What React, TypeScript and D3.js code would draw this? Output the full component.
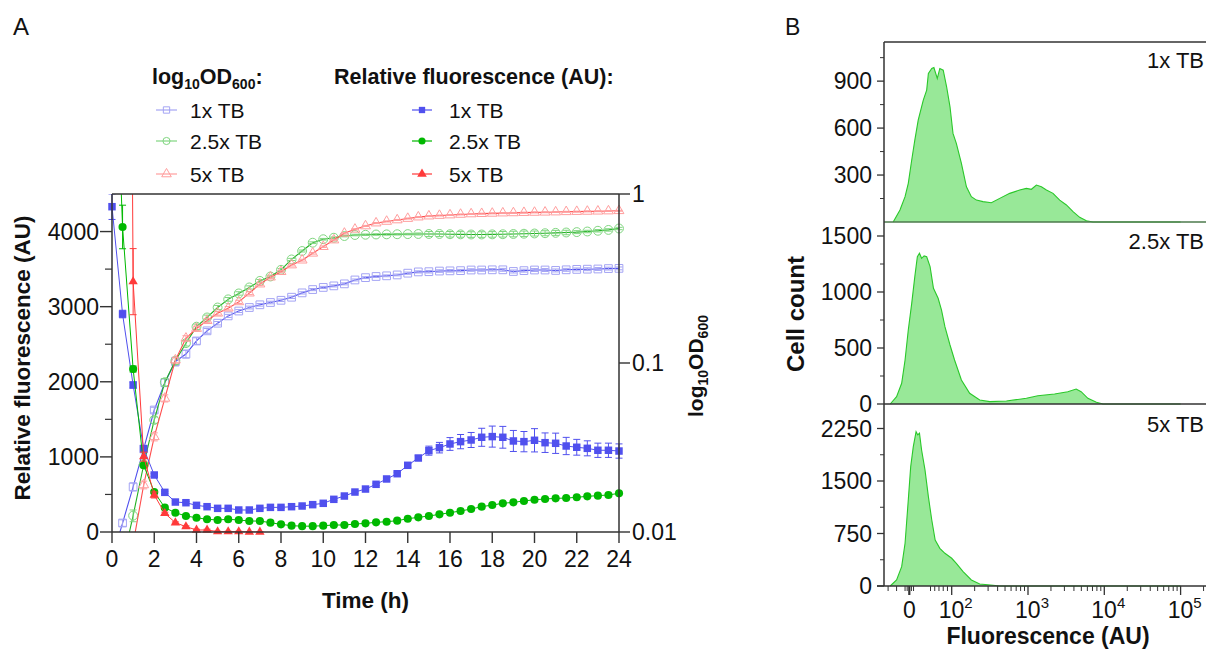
import React from 'react';
import * as d3 from 'd3';

// ---------------- DATA ----------------
const hours = [0, 0.5, 1, 1.5, 2, 2.5, 3, 3.5, 4, 4.5, 5, 5.5, 6, 6.5, 7, 7.5, 8, 8.5, 9, 9.5, 10, 10.5, 11, 11.5, 12, 12.5, 13, 13.5, 14, 14.5, 15, 15.5, 16, 16.5, 17, 17.5, 18, 18.5, 19, 19.5, 20, 20.5, 21, 21.5, 22, 22.5, 23, 23.5, 24];

// Relative fluorescence (AU)
const fluor1x = [4331, 2902, 1957, 1109, 759, 528, 399, 390, 355, 337, 315, 315, 293, 293, 315, 328, 328, 337, 346, 364, 382, 435, 479, 532, 572, 635, 706, 776, 888, 985, 1083, 1123, 1172, 1203, 1225, 1261, 1270, 1261, 1212, 1203, 1221, 1189, 1181, 1145, 1128, 1114, 1088, 1088, 1078];
const fluor1xSd = [170, 50, 40, 30, 20, 15, 15, 15, 15, 15, 15, 15, 15, 15, 15, 15, 15, 15, 15, 15, 15, 15, 15, 15, 15, 15, 15, 20, 25, 30, 60, 70, 85, 95, 100, 120, 140, 145, 140, 135, 155, 130, 135, 115, 105, 100, 95, 95, 95];
const fluor25x = [7800, 4061, 2170, 888, 533, 324, 257, 213, 190, 169, 160, 169, 160, 146, 146, 124, 102, 84, 78, 78, 84, 93, 93, 106, 115, 129, 137, 151, 177, 195, 213, 235, 257, 280, 306, 337, 359, 382, 395, 413, 430, 439, 448, 452, 462, 475, 484, 493, 515];
const fluor25xSd = [300, 290, 40, 20, 15, 10, 10, 10, 10, 10, 10, 10, 10, 10, 10, 10, 10, 10, 10, 10, 10, 10, 10, 10, 10, 10, 10, 10, 10, 10, 10, 10, 10, 10, 10, 10, 10, 10, 10, 10, 10, 10, 10, 10, 10, 10, 10, 10, 10];
const fluor5x: (number | null)[] = [null, 25000, 3333, 1003, 493, 249, 124, 71, 27, 27, 5, 5, 5, 0, 0, null, null, null, null, null, null, null, null, null, null, null, null, null, null, null, null, null, null, null, null, null, null, null, null, null, null, null, null, null, null, null, null, null, null];
const fluor5xSd = [0, 0, 440, 60, 40, 15, 10, 10, 10, 10, 5, 5, 5, 5, 5, 0, 0, 0, 0, 0, 0, 0, 0, 0, 0, 0, 0, 0, 0, 0, 0, 0, 0, 0, 0, 0, 0, 0, 0, 0, 0, 0, 0, 0, 0, 0, 0, 0, 0];

// OD600
const od1x = [0.0069, 0.0113, 0.0185, 0.031, 0.0527, 0.0765, 0.102, 0.113, 0.135, 0.155, 0.172, 0.19, 0.203, 0.213, 0.221, 0.228, 0.235, 0.245, 0.26, 0.272, 0.28, 0.286, 0.294, 0.31, 0.32, 0.325, 0.328, 0.332, 0.34, 0.346, 0.347, 0.35, 0.351, 0.352, 0.355, 0.355, 0.356, 0.356, 0.348, 0.352, 0.355, 0.355, 0.353, 0.356, 0.358, 0.359, 0.36, 0.362, 0.363];
const od1xSd = [0.0005, 0.0005, 0.001, 0.001, 0.002, 0.004, 0.006, 0.006, 0.006, 0.005, 0.004, 0.004, 0.004, 0.004, 0.004, 0.004, 0.004, 0.004, 0.004, 0.004, 0.004, 0.004, 0.004, 0.004, 0.004, 0.004, 0.004, 0.004, 0.005, 0.005, 0.006, 0.006, 0.006, 0.006, 0.006, 0.006, 0.006, 0.007, 0.007, 0.007, 0.007, 0.007, 0.007, 0.007, 0.007, 0.007, 0.007, 0.007, 0.007];
const od25x = [0.004, 0.0066, 0.0125, 0.025, 0.046, 0.077, 0.103, 0.131, 0.164, 0.186, 0.213, 0.238, 0.258, 0.28, 0.306, 0.325, 0.356, 0.41, 0.46, 0.515, 0.54, 0.551, 0.564, 0.572, 0.574, 0.576, 0.577, 0.578, 0.579, 0.58, 0.58, 0.58, 0.578, 0.577, 0.576, 0.576, 0.577, 0.578, 0.58, 0.582, 0.584, 0.586, 0.589, 0.592, 0.595, 0.6, 0.606, 0.613, 0.625];
const od25xSd = [0.0005, 0.0005, 0.001, 0.001, 0.002, 0.004, 0.005, 0.005, 0.006, 0.006, 0.006, 0.006, 0.006, 0.006, 0.006, 0.006, 0.006, 0.006, 0.006, 0.006, 0.006, 0.006, 0.006, 0.006, 0.006, 0.006, 0.006, 0.006, 0.006, 0.008, 0.02, 0.02, 0.022, 0.022, 0.022, 0.022, 0.022, 0.022, 0.022, 0.022, 0.02, 0.02, 0.02, 0.018, 0.012, 0.01, 0.01, 0.01, 0.01];
const od5x: (number | null)[] = [null, 0.003, 0.0085, 0.019, 0.0366, 0.0618, 0.104, 0.14, 0.16, 0.178, 0.197, 0.211, 0.23, 0.259, 0.293, 0.322, 0.347, 0.38, 0.406, 0.446, 0.488, 0.534, 0.585, 0.618, 0.647, 0.673, 0.688, 0.702, 0.716, 0.73, 0.74, 0.746, 0.751, 0.757, 0.762, 0.765, 0.768, 0.771, 0.773, 0.776, 0.778, 0.78, 0.782, 0.785, 0.787, 0.789, 0.791, 0.793, 0.796];
const od5xSd = [0, 0, 0.0005, 0.001, 0.002, 0.003, 0.004, 0.005, 0.005, 0.005, 0.005, 0.005, 0.005, 0.005, 0.005, 0.005, 0.005, 0.005, 0.005, 0.005, 0.005, 0.005, 0.005, 0.005, 0.005, 0.005, 0.005, 0.005, 0.005, 0.005, 0.005, 0.005, 0.005, 0.005, 0.005, 0.005, 0.005, 0.005, 0.005, 0.005, 0.005, 0.005, 0.005, 0.005, 0.005, 0.005, 0.005, 0.005, 0.005];

const leftTicks = [0, 1000, 2000, 3000, 4000];
const leftMinorTicks = [500, 1500, 2500, 3500];
const timeTicks = [0, 2, 4, 6, 8, 10, 12, 14, 16, 18, 20, 22, 24];
const odTicks = [0.01, 0.1, 1];
const odTickLabels = ['0.01', '0.1', '1'];
const mediaLabels = ['1x TB', '2.5x TB', '5x TB'];

// Flow cytometry histograms (fluorescence AU, cell count)
const hist1xFl = [-38, -22, -10, -2.4, 5.7, 13, 21, 33, 41, 45, 53, 58, 66, 72, 80, 88, 96, 104, 115, 134, 156, 181, 211, 257, 331, 426, 576, 778, 952, 1108, 1288, 1498, 1743, 2128, 2603, 3186, 3893, 4760, 5822, 7115, 100000];
const hist1xCount = [0, 77, 162, 247, 396, 523, 651, 779, 843, 949, 981, 987, 917, 981, 970, 864, 736, 566, 502, 375, 225, 162, 140, 130, 123, 151, 183, 204, 215, 209, 236, 225, 204, 183, 140, 109, 66, 30, 8, 0, 0];
const hist25xFl = [-45, -30, -18, -10, -2.4, 5.7, 13, 19, 24, 29, 35, 41, 49, 57, 68, 76, 84, 96, 109, 134, 172, 233, 315, 521, 952, 1346, 2229, 3326, 4276, 4970, 6093, 7880, 9616, 100000];
const hist25xCount = [0, 65, 185, 393, 661, 899, 1137, 1315, 1346, 1301, 1322, 1315, 1226, 1033, 944, 839, 690, 527, 393, 214, 96, 36, 21, 27, 51, 74, 89, 110, 134, 110, 51, 15, 0, 0];
const hist5xFl = [-45, -30, -18, -10, -2.4, 3.3, 9.4, 16, 20, 24, 29, 37, 45, 53, 61, 72, 84, 100, 115, 141, 181, 233, 348, 426, 100000];
const hist5xCount = [0, 86, 276, 610, 1229, 1705, 1991, 2205, 2158, 2182, 1943, 1658, 1276, 943, 657, 538, 467, 396, 324, 205, 86, 29, 10, 0, 0];

const p1Ticks = [300, 600, 900];
const p1Minor = [150, 450, 750, 1050];
const p2Ticks = [0, 500, 1000, 1500];
const p2Minor = [250, 750, 1250];
const p3Ticks = [0, 750, 1500, 2250];
const p3Minor = [375, 1125, 1875];
const flMajorTicks = [100, 1000, 10000, 100000];
const flMajorExp = ['2', '3', '4', '5'];
const flMinorTicks = [-50, -30, -10, -5, 5, 10, 50, 60, 70, 80, 90, 200, 300, 400, 500, 600, 700, 800, 900, 2000, 3000, 4000, 5000, 6000, 7000, 8000, 9000, 20000, 30000, 40000, 50000, 60000, 70000, 80000, 90000, 200000];

// ---------------- STYLE ----------------
const FONT = "Arial, 'Liberation Sans', Helvetica, sans-serif";
const AXIS = '#333';
const BLUE = '#5050ee';
const BLUE_L = '#a4a4f4';
const GREEN = '#00b800';
const GREEN_L = '#80d680';
const RED = '#ff3a3a';
const RED_L = '#ff9e9e';

// Panel A geometry
const AX0 = 112, AX1 = 619, AYB = 532, AYT = 194;
const xA = d3.scaleLinear().domain([0, 24]).range([AX0, AX1]);
const yF = d3.scaleLinear().domain([0, 4500]).range([AYB, AYT]);
const yOD = d3.scaleLog().domain([0.01, 1]).range([AYB, AYT]);

// Panel B geometry
const BX0 = 884, BX1 = 1206;
const bxLin = d3.scaleLinear().domain([0, 100]).range([909.3, 951.7]);
const bxLog = d3.scaleLog().domain([100, 100000]).range([951.7, 1180.6]);
const bx = (v: number) => (v >= 100 ? bxLog(v) : bxLin(v));
const yP1 = d3.scaleLinear().domain([0, 1150]).range([222, 42]);
const yP2 = d3.scaleLinear().domain([0, 1625]).range([404, 222]);
const yP3 = d3.scaleLinear().domain([0, 2600]).range([586, 404]);

type Shape = 'square' | 'circle' | 'triangle';
const symType = { square: d3.symbolSquare, circle: d3.symbolCircle, triangle: d3.symbolTriangle };

function Marker({ shape, x, y, size, fill, stroke, sw }: { shape: Shape; x: number; y: number; size: number; fill: string; stroke: string; sw: number }) {
  const d = d3.symbol().type(symType[shape]).size(size)() as string;
  return <path d={d} transform={`translate(${x},${y})`} fill={fill} stroke={stroke} strokeWidth={sw} />;
}

interface Series {
  vals: (number | null)[];
  sd: number[];
  y: (v: number) => number;
  inDomain: (v: number) => boolean;
  lineColor: string;
  markColor: string;
  shape: Shape;
  size: number;
  open: boolean;
  lw: number;
}

const fIn = (v: number) => v >= 0 && v <= 4500;
const oIn = (v: number) => v >= 0.01 && v <= 1.0001;

const odSeries: Series[] = [
  { vals: od1x, sd: od1xSd, y: yOD, inDomain: oIn, lineColor: BLUE, markColor: BLUE_L, shape: 'square', size: 60, open: true, lw: 1.1 },
  { vals: od25x, sd: od25xSd, y: yOD, inDomain: oIn, lineColor: '#20b020', markColor: GREEN_L, shape: 'circle', size: 62, open: true, lw: 1.1 },
  { vals: od5x, sd: od5xSd, y: yOD, inDomain: oIn, lineColor: '#ff4c4c', markColor: RED_L, shape: 'triangle', size: 42, open: true, lw: 1.1 },
];
const flSeries: Series[] = [
  { vals: fluor1x, sd: fluor1xSd, y: yF, inDomain: fIn, lineColor: BLUE, markColor: BLUE, shape: 'square', size: 56, open: false, lw: 1 },
  { vals: fluor25x, sd: fluor25xSd, y: yF, inDomain: fIn, lineColor: GREEN, markColor: GREEN, shape: 'circle', size: 52, open: false, lw: 1 },
  { vals: fluor5x, sd: fluor5xSd, y: yF, inDomain: fIn, lineColor: RED, markColor: RED, shape: 'triangle', size: 38, open: false, lw: 1 },
];

function SeriesView({ s, id }: { s: Series; id: string }) {
  const pts = hours.map((t, i) => ({ t, v: s.vals[i], e: s.sd[i] }));
  const line = d3
    .line<{ t: number; v: number | null }>()
    .defined((d) => d.v != null)
    .x((d) => xA(d.t))
    .y((d) => s.y(d.v as number));
  return (
    <g key={id}>
      <path d={line(pts) || ''} fill="none" stroke={s.lineColor} strokeWidth={s.lw} clipPath="url(#clipA)" />
      <g clipPath="url(#clipA)">
        {pts.map((p, i) => {
          if (p.v == null || !s.inDomain(p.v) || !p.e) return null;
          const x = xA(p.t);
          const lo = Math.max(p.v - p.e, s === odSeries[0] || s === odSeries[1] || s === odSeries[2] ? 0.001 : -100);
          const y1 = s.y(p.v + p.e);
          const y2 = s.y(lo);
          const c = s.open ? s.markColor : s.lineColor;
          return (
            <g key={i} stroke={c} strokeWidth={1}>
              <line x1={x} x2={x} y1={y1} y2={y2} />
              <line x1={x - 3.5} x2={x + 3.5} y1={y1} y2={y1} />
              <line x1={x - 3.5} x2={x + 3.5} y1={y2} y2={y2} />
            </g>
          );
        })}
      </g>
      {pts.map((p, i) => {
        if (p.v == null || !s.inDomain(p.v)) return null;
        return (
          <Marker
            key={i}
            shape={s.shape}
            x={xA(p.t)}
            y={s.y(p.v)}
            size={s.size}
            fill={s.open ? 'none' : s.markColor}
            stroke={s.markColor}
            sw={s.open ? 1 : 0}
          />
        );
      })}
    </g>
  );
}

function Hist({ fl, counts, y, base }: { fl: number[]; counts: number[]; y: (v: number) => number; base: number }) {
  const pts = fl.map((f, i) => [f, counts[i]] as [number, number]);
  const area = d3
    .area<[number, number]>()
    .x((d) => bx(d[0]))
    .y0(base)
    .y1((d) => y(d[1]));
  const line = d3
    .line<[number, number]>()
    .x((d) => bx(d[0]))
    .y((d) => y(d[1]));
  return (
    <g clipPath="url(#clipB)">
      <path d={area(pts) || ''} fill="#98e898" stroke="none" />
      <path d={line(pts) || ''} fill="none" stroke="#2ac82a" strokeWidth={1.1} />
    </g>
  );
}

function YAxisB({ y, ticks, minor }: { y: (v: number) => number; ticks: number[]; minor: number[] }) {
  return (
    <g>
      {ticks.map((t) => (
        <g key={t}>
          <line x1={BX0 - 7} x2={BX0} y1={y(t)} y2={y(t)} stroke={AXIS} strokeWidth={1.3} />
          <text x={872} y={y(t) + 8} textAnchor="end" fontSize={23} fill="#111">
            {t}
          </text>
        </g>
      ))}
      {minor.map((t) => (
        <line key={'m' + t} x1={BX0 - 4} x2={BX0} y1={y(t)} y2={y(t)} stroke={AXIS} strokeWidth={1} />
      ))}
    </g>
  );
}

export default function App() {
  const legendOD = [
    { shape: 'square' as Shape, color: BLUE_L, line: BLUE_L },
    { shape: 'circle' as Shape, color: GREEN_L, line: GREEN_L },
    { shape: 'triangle' as Shape, color: RED_L, line: RED_L },
  ];
  const legendFl = [
    { shape: 'square' as Shape, color: BLUE },
    { shape: 'circle' as Shape, color: GREEN },
    { shape: 'triangle' as Shape, color: RED },
  ];
  const rowY = [110, 141, 174];

  return (
    <svg
      width={1206}
      height={650}
      style={{ position: 'absolute', left: 0, top: 0, background: '#fff' }}
      fontFamily={FONT}
    >
      <defs>
        <clipPath id="clipA">
          <rect x={AX0 - 10} y={AYT} width={AX1 - AX0 + 20} height={AYB - AYT} />
        </clipPath>
        <clipPath id="clipB">
          <rect x={BX0 + 1} y={40} width={BX1 - BX0} height={550} />
        </clipPath>
      </defs>

      {/* Panel labels */}
      <text x={13} y={35} fontSize={24} fill="#111">A</text>
      <text x={785} y={35} fontSize={23} fill="#111">B</text>

      {/* ---------- Panel A ---------- */}
      {/* legend */}
      <text x={152} y={84} fontSize={21.5} fontWeight="bold" fill="#111">
        log<tspan dy={5} fontSize={14}>10</tspan>
        <tspan dy={-5}>OD</tspan>
        <tspan dy={5} fontSize={14}>600</tspan>
        <tspan dy={-5}>:</tspan>
      </text>
      <text x={334} y={84} fontSize={21.5} fontWeight="bold" fill="#111">
        Relative fluorescence (AU):
      </text>
      {legendOD.map((l, i) => (
        <g key={'lo' + i}>
          <line x1={156} x2={177} y1={rowY[i]} y2={rowY[i]} stroke={l.line} strokeWidth={1.2} />
          <Marker shape={l.shape} x={166.5} y={rowY[i]} size={40} fill="none" stroke={l.color} sw={1} />
          <text x={190} y={rowY[i] + 7.5} fontSize={21} fill="#111">
            {mediaLabels[i]}
          </text>
        </g>
      ))}
      {legendFl.map((l, i) => (
        <g key={'lf' + i}>
          <line x1={412} x2={432} y1={rowY[i]} y2={rowY[i]} stroke={l.color} strokeWidth={1.2} />
          <Marker shape={l.shape} x={422} y={rowY[i]} size={40} fill={l.color} stroke="none" sw={0} />
          <text x={449} y={rowY[i] + 7.5} fontSize={21} fill="#111">
            {mediaLabels[i]}
          </text>
        </g>
      ))}

      {/* series */}
      {odSeries.map((s, i) => (
        <SeriesView key={'od' + i} s={s} id={'od' + i} />
      ))}
      {flSeries.map((s, i) => (
        <SeriesView key={'fl' + i} s={s} id={'fl' + i} />
      ))}

      {/* axes */}
      <line x1={AX0} x2={AX1} y1={AYT} y2={AYT} stroke={AXIS} strokeWidth={1.3} />
      <line x1={AX0} x2={AX0} y1={AYT} y2={AYB} stroke={AXIS} strokeWidth={1.5} />
      <line x1={AX1} x2={AX1} y1={AYT} y2={AYB} stroke={AXIS} strokeWidth={1.5} />
      <line x1={AX0} x2={AX1} y1={AYB} y2={AYB} stroke={AXIS} strokeWidth={1.5} />
      {leftTicks.map((t) => (
        <g key={'lt' + t}>
          <line x1={AX0 - 12} x2={AX0} y1={yF(t)} y2={yF(t)} stroke={AXIS} strokeWidth={1.4} />
          <text x={99} y={yF(t) + 8} textAnchor="end" fontSize={23} fill="#111">
            {t}
          </text>
        </g>
      ))}
      {leftMinorTicks.map((t) => (
        <line key={'lm' + t} x1={AX0 - 7} x2={AX0} y1={yF(t)} y2={yF(t)} stroke={AXIS} strokeWidth={1.2} />
      ))}
      {timeTicks.map((t) => (
        <g key={'xt' + t}>
          <line x1={xA(t)} x2={xA(t)} y1={AYB} y2={AYB + 11} stroke={AXIS} strokeWidth={1.4} />
          <text x={xA(t)} y={566.5} textAnchor="middle" fontSize={23} fill="#111">
            {t}
          </text>
        </g>
      ))}
      {odTicks.map((t, i) => (
        <g key={'rt' + t}>
          <line x1={AX1} x2={AX1 + 11} y1={yOD(t)} y2={yOD(t)} stroke={AXIS} strokeWidth={1.4} />
          <text x={632} y={yOD(t) + 8} textAnchor="start" fontSize={23} fill="#111">
            {odTickLabels[i]}
          </text>
        </g>
      ))}
      <text x={365.5} y={608} textAnchor="middle" fontSize={22.5} fontWeight="bold" fill="#111">
        Time (h)
      </text>
      <text transform="translate(30,358) rotate(-90)" textAnchor="middle" fontSize={22.5} fontWeight="bold" fill="#111">
        Relative fluorescence (AU)
      </text>
      <text transform="translate(703,366) rotate(-90)" textAnchor="middle" fontSize={21} fontWeight="bold" fill="#111">
        log<tspan dy={5} fontSize={14}>10</tspan>
        <tspan dy={-5}>OD</tspan>
        <tspan dy={5} fontSize={14}>600</tspan>
      </text>

      {/* ---------- Panel B ---------- */}
      <Hist fl={hist1xFl} counts={hist1xCount} y={yP1} base={222} />
      <Hist fl={hist25xFl} counts={hist25xCount} y={yP2} base={404} />
      <Hist fl={hist5xFl} counts={hist5xCount} y={yP3} base={586} />

      <line x1={BX0} x2={BX1} y1={42} y2={42} stroke={AXIS} strokeWidth={1.3} />
      <line x1={BX0} x2={BX1} y1={222} y2={222} stroke="#4d7a4d" strokeWidth={1.5} />
      <line x1={BX0} x2={BX1} y1={404} y2={404} stroke={AXIS} strokeWidth={1.5} />
      <line x1={877} x2={BX1} y1={586} y2={586} stroke={AXIS} strokeWidth={1.5} />
      <line x1={BX0} x2={BX0} y1={42} y2={586} stroke={AXIS} strokeWidth={1.5} />

      <YAxisB y={yP1} ticks={p1Ticks} minor={p1Minor} />
      <YAxisB y={yP2} ticks={p2Ticks} minor={p2Minor} />
      <YAxisB y={yP3} ticks={p3Ticks} minor={p3Minor} />

      <text x={1204} y={68} textAnchor="end" fontSize={22} fill="#111">{mediaLabels[0]}</text>
      <text x={1204} y={249} textAnchor="end" fontSize={22} fill="#111">{mediaLabels[1]}</text>
      <text x={1204} y={432} textAnchor="end" fontSize={22} fill="#111">{mediaLabels[2]}</text>

      {/* x axis of panel B */}
      <line x1={bx(0)} x2={bx(0)} y1={586} y2={595} stroke={AXIS} strokeWidth={2.2} />
      <text x={bx(0)} y={618} textAnchor="middle" fontSize={23} fill="#111">0</text>
      {flMajorTicks.map((t, i) => (
        <g key={'bt' + t}>
          <line x1={bx(t)} x2={bx(t)} y1={586} y2={595} stroke={AXIS} strokeWidth={1.3} />
          <text x={bx(t) + 4} y={618} textAnchor="middle" fontSize={23} fill="#111">
            10<tspan dy={-10} fontSize={15}>{flMajorExp[i]}</tspan>
          </text>
        </g>
      ))}
      {flMinorTicks.map((t) =>
        bx(t) <= BX1 ? (
          <line key={'bm' + t} x1={bx(t)} x2={bx(t)} y1={586} y2={591} stroke={AXIS} strokeWidth={1} />
        ) : null
      )}
      <text x={1048} y={644} textAnchor="middle" fontSize={23} fontWeight="bold" fill="#111">
        Fluorescence (AU)
      </text>
      <text transform="translate(804,314) rotate(-90)" textAnchor="middle" fontSize={24} fontWeight="bold" fill="#111">
        Cell count
      </text>
    </svg>
  );
}
